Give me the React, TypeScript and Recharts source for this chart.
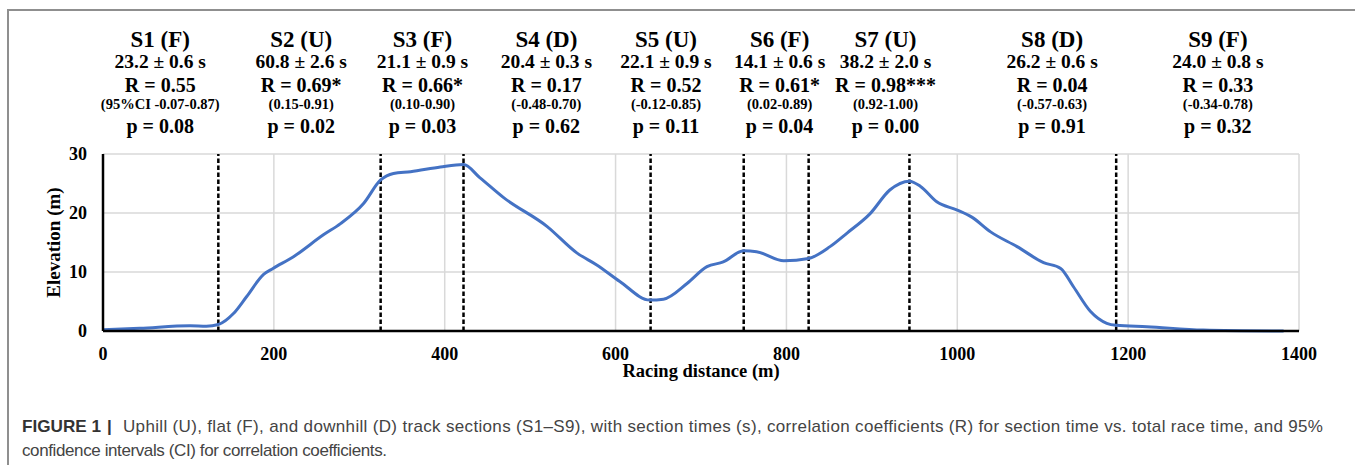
import { ComposedChart, Line, XAxis, YAxis, CartesianGrid, ReferenceLine, Label } from "recharts";

// Elevation profile (m) vs racing distance (m)
const distance = [0, 43, 102, 121, 135, 153, 168, 188, 199, 223, 258, 278, 305, 325, 340, 360, 395, 422, 441, 469, 520, 555, 578, 605, 640, 656, 684, 707, 726, 750, 765, 797, 826, 851, 871, 898, 921, 944, 957, 976, 1000, 1017, 1039, 1070, 1101, 1121, 1136, 1156, 1175, 1186, 1222, 1288, 1382];
const elevation = [0.2, 0.45, 0.9, 0.8, 1.1, 3.0, 5.8, 9.6, 10.6, 12.6, 16.3, 18.2, 21.6, 25.6, 26.7, 27.0, 27.8, 28.2, 26.0, 22.6, 17.7, 13.2, 11.2, 8.4, 5.25, 5.4, 8.1, 10.9, 11.7, 13.6, 13.45, 11.9, 12.3, 14.3, 16.6, 19.9, 23.9, 25.4, 24.5, 21.9, 20.5, 19.3, 16.8, 14.3, 11.6, 10.6, 7.5, 3.3, 1.3, 0.97, 0.73, 0.17, 0];

// section boundaries (dashed lines)
const boundaries = [135, 325, 422, 641, 750, 826, 944, 1186];

// section annotations
const sectionNames = ["S1 (F)", "S2 (U)", "S3 (F)", "S4 (D)", "S5 (U)", "S6 (F)", "S7 (U)", "S8 (D)", "S9 (F)"];
const sectionTimes = ["23.2 ± 0.6 s", "60.8 ± 2.6 s", "21.1 ± 0.9 s", "20.4 ± 0.3 s", "22.1 ± 0.9 s", "14.1 ± 0.6 s", "38.2 ± 2.0 s", "26.2 ± 0.6 s", "24.0 ± 0.8 s"];
const sectionR = ["R = 0.55", "R = 0.69*", "R = 0.66*", "R = 0.17", "R = 0.52", "R = 0.61*", "R = 0.98***", "R = 0.04", "R = 0.33"];
const sectionCI = ["(95%CI -0.07-0.87)", "(0.15-0.91)", "(0.10-0.90)", "(-0.48-0.70)", "(-0.12-0.85)", "(0.02-0.89)", "(0.92-1.00)", "(-0.57-0.63)", "(-0.34-0.78)"];
const sectionP = ["p = 0.08", "p = 0.02", "p = 0.03", "p = 0.62", "p = 0.11", "p = 0.04", "p = 0.00", "p = 0.91", "p = 0.32"];
const labelX = [67, 232, 374, 519, 659, 792, 916, 1111, 1305];

const xTicks = [0, 200, 400, 600, 800, 1000, 1200, 1400];
const yTicks = [0, 10, 20, 30];

const chartData = distance.map((d, i) => ({ distance: d, elevation: elevation[i] }));

const SERIF = '"Liberation Serif", "Times New Roman", serif';
const SANS = '"Liberation Sans", Arial, sans-serif';

const SectionLabel = ({ viewBox, index }: any) => {
  const cx = viewBox.x;
  const top = viewBox.y;
  return (
    <g fontFamily={SERIF} fontWeight="bold" fill="#000" textAnchor="middle">
      <text x={cx} y={top - 107} fontSize={23}>{sectionNames[index]}</text>
      <text x={cx} y={top - 86} fontSize={19.5}>{sectionTimes[index]}</text>
      <text x={cx} y={top - 62} fontSize={20}>{sectionR[index]}</text>
      <text x={cx} y={top - 45} fontSize={14.5}>{sectionCI[index]}</text>
      <text x={cx} y={top - 21} fontSize={20}>{sectionP[index]}</text>
    </g>
  );
};

const YTitle = ({ viewBox }: any) => {
  const x = viewBox.x + 10;
  const y = viewBox.y + viewBox.height / 2;
  return (
    <text x={x} y={y} transform={`rotate(-90, ${x}, ${y})`} textAnchor="middle" dominantBaseline="central"
      fontFamily={SERIF} fontWeight="bold" fontSize={19} fill="#000">
      Elevation (m)
    </text>
  );
};

export default function App() {
  return (
    <div style={{ position: "absolute", left: 0, top: 0, width: 1355, height: 465, background: "#fff", overflow: "hidden" }}>
      <div style={{ position: "absolute", left: 7, top: 9, width: 1400, height: 500, borderLeft: "2px solid #8f8f8f", borderTop: "2px solid #8f8f8f" }} />
      <div style={{ position: "absolute", left: 0, top: 0 }}>
        <ComposedChart width={1355} height={400} data={chartData} margin={{ top: 154, right: 56, bottom: 19, left: 43 }}>
          <CartesianGrid stroke="#d9d9d9" strokeWidth={1.5} />
          <XAxis
            dataKey="distance"
            type="number"
            domain={[0, 1400]}
            ticks={xTicks}
            height={50}
            tickLine={false}
            tickSize={0}
            tickMargin={16}
            axisLine={{ stroke: "#000", strokeWidth: 2.5 }}
            tick={{ fill: "#000", fontFamily: SERIF, fontWeight: "bold", fontSize: 18 }}
          >
            <Label value="Racing distance (m)" position="insideBottom" offset={4}
              style={{ fill: "#000", fontFamily: SERIF, fontWeight: "bold", fontSize: 18.5 }} />
          </XAxis>
          <YAxis
            type="number"
            domain={[0, 30]}
            ticks={yTicks}
            width={60}
            tickLine={false}
            tickSize={0}
            tickMargin={16}
            axisLine={{ stroke: "#000", strokeWidth: 2.5 }}
            tick={{ fill: "#000", fontFamily: SERIF, fontWeight: "bold", fontSize: 18 }}
          >
            <Label content={<YTitle />} />
          </YAxis>
          {boundaries.map((b) => (
            <ReferenceLine key={`b-${b}`} x={b} stroke="#000" strokeWidth={2.5} strokeDasharray="4.5 2.5" />
          ))}
          {labelX.map((lx, i) => (
            <ReferenceLine key={`l-${i}`} x={lx} stroke="none" label={<SectionLabel index={i} />} />
          ))}
          <Line
            type="monotone"
            dataKey="elevation"
            stroke="#4472C4"
            strokeWidth={3}
            dot={false}
            activeDot={false}
            isAnimationActive={false}
          />
        </ComposedChart>
      </div>
      <svg width={1355} height={465} style={{ position: "absolute", left: 0, top: 0 }}>
        <text x={22} y={432} fontFamily={SANS} fontSize={17} fontWeight="bold" fill="#333" textLength={79} lengthAdjust="spacingAndGlyphs">FIGURE 1</text>
        <text x={107} y={432} fontFamily={SANS} fontSize={17} fontWeight="bold" fill="#333">|</text>
        <text x={123} y={432} fontFamily={SANS} fontSize={17} fill="#444" textLength={1200} lengthAdjust="spacing">
          Uphill (U), flat (F), and downhill (D) track sections (S1–S9), with section times (s), correlation coefficients (R) for section time vs. total race time, and 95%
        </text>
        <text x={22} y={456} fontFamily={SANS} fontSize={17} fill="#444" textLength={365} lengthAdjust="spacing">
          confidence intervals (CI) for correlation coefficients.
        </text>
      </svg>
    </div>
  );
}
